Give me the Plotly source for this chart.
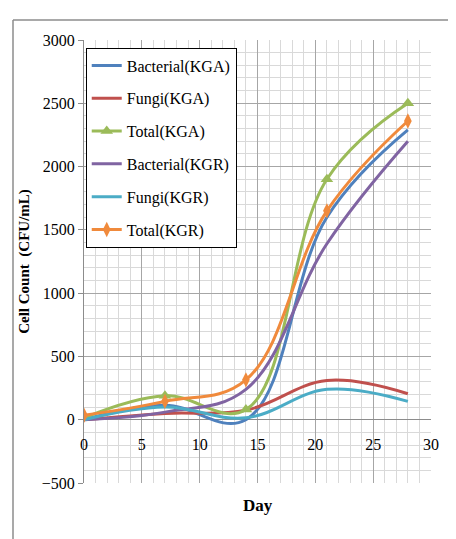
import plotly.graph_objects as go

days = [0, 7, 14, 21, 28]
bacterial_kga = [0, 115, 0, 1600, 2290]
fungi_kga = [0, 50, 75, 310, 205]
total_kga = [15, 190, 80, 1900, 2500]
bacterial_kgr = [0, 60, 240, 1390, 2200]
fungi_kgr = [0, 100, 15, 240, 145]
total_kgr = [35, 145, 315, 1650, 2360]

series = [
    ("Bacterial(KGA)", bacterial_kga, "#4F81BD", None),
    ("Fungi(KGA)", fungi_kga, "#C0504D", None),
    ("Total(KGA)", total_kga, "#9BBB59", "triangle-up"),
    ("Bacterial(KGR)", bacterial_kgr, "#8064A2", None),
    ("Fungi(KGR)", fungi_kgr, "#4BACC6", None),
    ("Total(KGR)", total_kgr, "#F08A3C", "diamond-tall"),
]

FONT = "'Liberation Serif', 'Times New Roman', serif"
fig = go.Figure()
for i, (name, vals, color, sym) in enumerate(series):
    fig.add_trace(go.Scatter(
        x=days, y=vals, name=name, legendgroup=f"g{i}",
        mode="lines+markers" if sym else "lines",
        line=dict(color=color, width=3, shape="spline", smoothing=1.1),
        marker=dict(symbol=sym or "circle", size=11, color=color) if sym else None,
    ))

grid_major = "#a6a6a6"
grid_minor = "#d9d9d9"

fig.update_layout(
    width=456, height=539,
    margin=dict(l=76, r=33, t=32, b=64),
    paper_bgcolor="white", plot_bgcolor="white",
    font=dict(family=FONT, size=15, color="black"),
    showlegend=True,
    legend=dict(
        x=0.005, y=0.983, xanchor="left", yanchor="top",
        bgcolor="white", bordercolor="black", borderwidth=1,
        font=dict(family=FONT, size=16), tracegroupgap=9,
        itemwidth=30,
    ),
    xaxis=dict(
        range=[0, 30], dtick=5, tick0=0,
        showgrid=True, gridcolor=grid_major, gridwidth=1,
        minor=dict(dtick=1, showgrid=True, gridcolor=grid_minor, gridwidth=1),
        anchor="free", position=0.14, showline=False, zeroline=False,
        ticks="", ticklabelstandoff=12,
        tickfont=dict(family=FONT, size=16),
    ),
    yaxis=dict(
        range=[-500, 3000], dtick=500, tick0=0,
        showgrid=True, gridcolor=grid_major, gridwidth=1,
        minor=dict(dtick=100, showgrid=True, gridcolor=grid_minor, gridwidth=1),
        zeroline=True, zerolinecolor="#8c8c8c", zerolinewidth=1,
        showline=True, linecolor="#8c8c8c", linewidth=1,
        ticks="outside", ticklen=5, tickcolor="#8c8c8c",
        tickfont=dict(family=FONT, size=16),
        title=dict(text="<b>Cell Count  (CFU/mL)</b>", standoff=8,
                   font=dict(family=FONT, size=15)),
    ),
    annotations=[dict(
        text="<b>Day</b>", x=0.5, y=-0.05, xref="paper", yref="paper",
        xanchor="center", yanchor="middle", showarrow=False,
        font=dict(family=FONT, size=17),
    )],
    shapes=[
        dict(type="line", xref="paper", yref="paper", x0=-0.2046, x1=1.1,
             y0=1.045, y1=1.045, line=dict(color="#8c8c8c", width=1.5)),
        dict(type="line", xref="paper", yref="paper", x0=-0.2046, x1=-0.2046,
             y0=1.045, y1=-0.15, line=dict(color="#8c8c8c", width=1.5)),
    ],
)

fig.write_html("out.html")
